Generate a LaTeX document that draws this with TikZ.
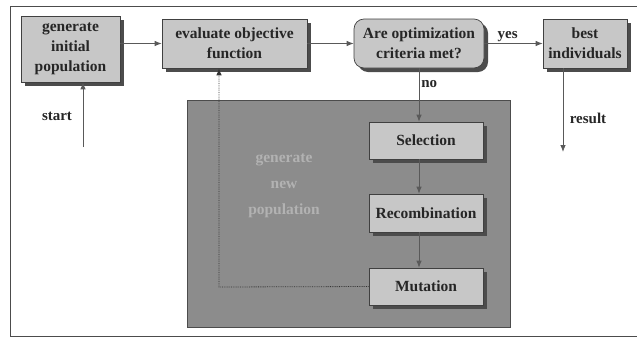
\documentclass[tikz,border=0pt]{standalone}
\usepackage{fontspec}
\setmainfont{Liberation Serif}
\usetikzlibrary{arrows.meta,shadows}
\begin{document}
\begin{tikzpicture}[x=1pt,y=-1pt,
  box/.style={draw=black!75, fill=black!22, line width=0.7pt, align=center,
    inner sep=0pt, font=\fontsize{15.5}{20}\selectfont\bfseries, text=black!85,
    drop shadow={shadow xshift=4pt, shadow yshift=-4pt, fill=black!70, opacity=1}},
  conn/.style={draw=black!65, line width=0.8pt, -{Latex[length=7pt,width=5.5pt]}},
  lbl/.style={font=\fontsize{15}{17}\selectfont\bfseries, text=black!85},
]
\useasboundingbox (0,0) rectangle (637,338);
\draw[black!70, line width=0.8pt] (10,6) rectangle (660,336);
% shaded region
\node[draw=black!70, fill=black!45, line width=0.6pt, minimum width=323pt, minimum height=227pt, inner sep=0pt] (reg) at (348.5,213.5) {};
\node[font=\fontsize{15.5}{26}\selectfont\bfseries, text=black!30, align=center] (gnp) at (284,186) {generate\\new\\population};
% boxes
\node[box, minimum width=99pt, minimum height=66pt] (gen) at (70.5,49) {generate\\initial\\population};
\node[box, minimum width=145pt, minimum height=49pt] (eval) at (234.5,43.5) {evaluate objective\\function};
\node[box, rounded corners=10pt, minimum width=130pt, minimum height=49pt] (crit) at (419,43.5) {Are optimization\\criteria met?};
\node[box, minimum width=84pt, minimum height=49pt] (best) at (585,43.5) {best\\individuals};
\node[box, minimum width=114pt, minimum height=37pt] (sel) at (426,140.5) {Selection};
\node[box, minimum width=114pt, minimum height=38pt] (rec) at (426,213) {Recombination};
\node[box, minimum width=114pt, minimum height=37pt] (mut) at (426,286.5) {Mutation};
% connectors
\draw[conn] (gen.east |- eval.west) -- (eval.west);
\draw[conn] (eval.east) -- (crit.west);
\draw[conn] (crit.east) -- node[lbl, above, pos=0.4, inner sep=1pt] (yes) {yes} (best.west);
\draw[conn] (crit.south) -- node[lbl, right, pos=0.3, inner sep=2pt] (no) {no} (crit.south |- sel.north);
\draw[conn] (sel.south -| crit.south) -- (rec.north -| crit.south);
\draw[conn] (rec.south -| crit.south) -- (mut.north -| crit.south);
\coordinate (lc) at (219,287);
\draw[conn, draw=black!80, densely dotted] (mut.west) -- (lc) -- (lc |- eval.south);
\coordinate (st) at (83,147);
\draw[conn] (st) -- (st |- gen.south);
\node[lbl] (start) at (57,116) {start};
\coordinate (rs) at (563,152);
\draw[conn] (best.south -| rs) -- (rs);
\node[lbl] (result) at (588,118) {result};
\end{tikzpicture}
\end{document}
